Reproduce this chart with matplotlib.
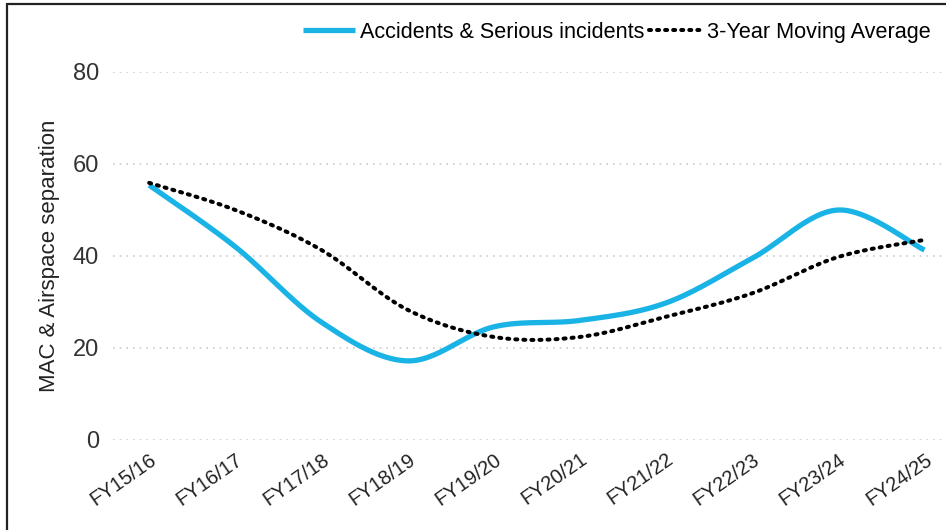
import matplotlib.pyplot as plt
import numpy as np
from matplotlib.patches import Rectangle
from matplotlib.transforms import ScaledTranslation

plt.rcParams['font.family'] = ['Liberation Sans', 'DejaVu Sans']

years = ['FY15/16', 'FY16/17', 'FY17/18', 'FY18/19', 'FY19/20',
         'FY20/21', 'FY21/22', 'FY22/23', 'FY23/24', 'FY24/25']
incidents = [55.4, 42, 25.6, 17.2, 24.6, 26, 29.8, 39.5, 50, 41.3]
moving_avg = [55.9, 50, 41.3, 28.3, 22.4, 22.4, 26.8, 31.9, 39.8, 43.5]


def smooth(y, steps=30):
    # bezier smoothing through each point, like a spreadsheet "smoothed line"
    x = np.arange(len(y), dtype=float)
    p = np.column_stack([x, np.asarray(y, dtype=float)])
    p = np.vstack([p[0], p, p[-1]])
    out = []
    t = np.linspace(0, 1, steps)[:, None]
    for i in range(1, len(p) - 2):
        p0, p1, p2, p3 = p[i - 1], p[i], p[i + 1], p[i + 2]
        c1 = p1 + (p2 - p0) / 6
        c2 = p2 - (p3 - p1) / 6
        seg = ((1 - t) ** 3) * p1 + 3 * ((1 - t) ** 2) * t * c1 \
            + 3 * (1 - t) * t ** 2 * c2 + t ** 3 * p2
        out.append(seg)
    out = np.vstack(out)
    return out[:, 0], out[:, 1]


fig = plt.figure(figsize=(9.46, 5.3), dpi=100)
ax = fig.add_axes([113 / 946, 90 / 530, (946 - 113) / 946, 368 / 530])

xs, ys = smooth(incidents)
ax.plot(xs, ys, color='#1AB3E6', lw=3.8, solid_capstyle='butt',
        label='Accidents & Serious incidents')
xs, ys = smooth(moving_avg)
ax.plot(xs, ys, color='black', lw=2.9, linestyle=(0, (0.5, 1.5)),
        dash_capstyle='round', label='3-Year Moving Average')

ax.set_xlim(-0.42, 9.25)
ax.set_ylim(0, 80)
ax.set_yticks([0, 20, 40, 60, 80])
ax.set_xticks(range(len(years)))
ax.set_xticklabels(years, rotation=35, ha='right', rotation_mode='anchor',
                   fontsize=14.5, color='#222222')
shift = ScaledTranslation(-10 / 100, 0, fig.dpi_scale_trans)
for lbl in ax.get_xticklabels():
    lbl.set_transform(lbl.get_transform() + shift)
ax.tick_params(axis='y', labelsize=17, colors='#333333', length=0, pad=10)
ax.tick_params(axis='x', length=0, pad=7)
ax.grid(axis='y', color='#cccccc', linestyle=(0, (1, 3)), lw=1.2)
ax.set_axisbelow(True)
for s in ax.spines.values():
    s.set_visible(False)
ax.set_ylabel('MAC & Airspace separation', fontsize=16, color='#222222',
              labelpad=9)

ax.legend(loc='center left', bbox_to_anchor=(190 / 833, 1 + 40 / 368),
          ncol=2, frameon=False, fontsize=15.6, handlelength=2.4,
          handletextpad=0.25, columnspacing=0.2, borderaxespad=0,
          borderpad=0)

# outer frame
fig.patches.append(Rectangle((7 / 946, -0.1), 1.2, (530 - 4) / 530 + 0.1,
                             transform=fig.transFigure, fill=False,
                             edgecolor='#222222', lw=1.6))

fig.savefig('out.png', dpi=100)
